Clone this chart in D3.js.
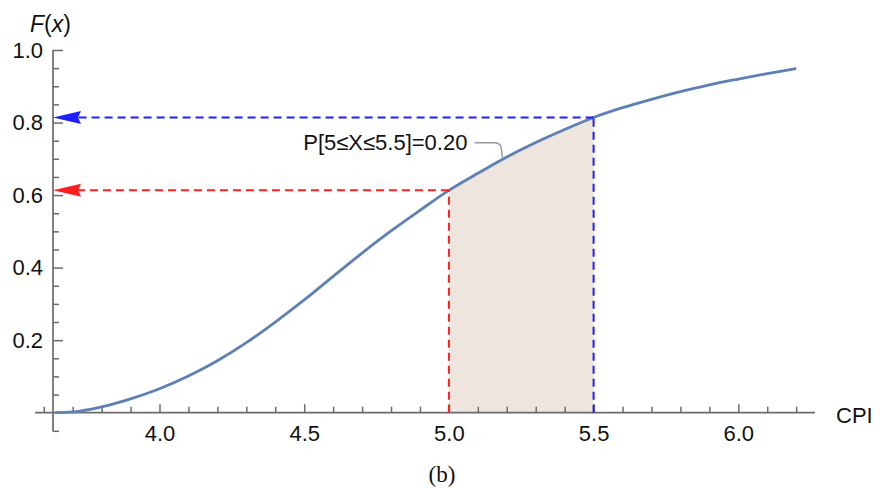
<!DOCTYPE html>
<html>
<head>
<meta charset="utf-8">
<script src="https://cdn.jsdelivr.net/npm/d3@7/dist/d3.min.js"></script>
<style>
  body { margin: 0; background: #fff; }
  text { font-family: "Liberation Sans", Arial, sans-serif; }
</style>
</head>
<body>
<svg id="svg"></svg>
<script>
// CDF values
const cpiValues = [3.64, 3.7, 3.8, 3.9, 4.0, 4.1, 4.2, 4.3, 4.4, 4.5, 4.6, 4.7, 4.8, 4.9,
  5.0, 5.1, 5.2, 5.3, 5.4, 5.5, 5.6, 5.7, 5.8, 5.9, 6.0, 6.1, 6.2];
const cdfValues = [0.000, 0.002, 0.016, 0.038, 0.066, 0.101, 0.143, 0.193, 0.250, 0.311,
  0.376, 0.440, 0.501, 0.558, 0.613, 0.660, 0.705, 0.745, 0.781, 0.814, 0.841, 0.864,
  0.885, 0.904, 0.920, 0.935, 0.949];

const xTickLabels = [4.0, 4.5, 5.0, 5.5, 6.0];
const yTickLabels = [0.2, 0.4, 0.6, 0.8, 1.0];

// interval of interest and the two read-off points
const lowerX = 5.0, upperX = 5.5;
const lowerF = 0.613, upperF = 0.814;
const annotation = "P[5≤X≤5.5]=0.20";
const annotationAnchor = [5.185, 0.703];

const data = cpiValues.map((v, i) => ({ x: v, y: cdfValues[i] }));

const width = 884, height = 488;
const svg = d3.select("#svg").attr("width", width).attr("height", height);

const x = d3.scaleLinear().domain([4, 6]).range([159.5, 738.3]);
const y = d3.scaleLinear().domain([0, 1]).range([412.7, 50]);

const originX = 3.632;
const axisColor = "#6b6b6b";
const fontSize = 22;

// shaded probability region
const band = data.filter(d => d.x >= lowerX && d.x <= upperX);
svg.append("path")
  .datum(band)
  .attr("fill", "#ede5de")
  .attr("d", d3.area().x(d => x(d.x)).y0(y(0)).y1(d => y(d.y)).curve(d3.curveMonotoneX));

// axes lines
svg.append("line")
  .attr("x1", x(3.57)).attr("x2", x(6.265))
  .attr("y1", y(0)).attr("y2", y(0))
  .attr("stroke", axisColor).attr("stroke-width", 1.7);
svg.append("line")
  .attr("x1", x(originX)).attr("x2", x(originX))
  .attr("y1", y(-0.052)).attr("y2", y(1))
  .attr("stroke", axisColor).attr("stroke-width", 1.7);

// x axis ticks
const xMinor = d3.range(36, 63).map(v => v / 10).filter(v => !xTickLabels.includes(v));
const xMajorAxis = d3.axisBottom(x).tickValues(xTickLabels).tickFormat(d3.format(".1f"))
  .tickSizeInner(-8.5).tickSizeOuter(0).tickPadding(13);
const xMinorAxis = d3.axisBottom(x).tickValues(xMinor).tickFormat("")
  .tickSizeInner(-6).tickSizeOuter(0);

svg.append("g").attr("transform", `translate(0,${y(0)})`).call(xMinorAxis);
svg.append("g").attr("transform", `translate(0,${y(0)})`).call(xMajorAxis);

// y axis ticks
const yMinor = d3.range(-1, 21).map(v => v / 20).filter(v => v !== 0 && !yTickLabels.some(t => Math.abs(t - v) < 1e-9));
const yMajorAxis = d3.axisLeft(y).tickValues(yTickLabels).tickFormat(d3.format(".1f"))
  .tickSizeInner(-10).tickSizeOuter(0).tickPadding(10);
const yMinorAxis = d3.axisLeft(y).tickValues(yMinor).tickFormat("")
  .tickSizeInner(-6).tickSizeOuter(0);

svg.append("g").attr("transform", `translate(${x(originX)},0)`).call(yMinorAxis);
svg.append("g").attr("transform", `translate(${x(originX)},0)`).call(yMajorAxis);

svg.selectAll(".domain").remove();
svg.selectAll(".tick line").attr("stroke", axisColor).attr("stroke-width", 1.5);
svg.selectAll(".tick text").attr("font-size", fontSize).attr("fill", "#111");

// CDF curve
svg.append("path")
  .datum(data)
  .attr("fill", "none")
  .attr("stroke", "#5e81b5")
  .attr("stroke-width", 2.8)
  .attr("d", d3.line().x(d => x(d.x)).y(d => y(d.y)).curve(d3.curveMonotoneX));

// dashed guides with arrows to the y axis
function guide(xv, fv, color) {
  svg.append("line")
    .attr("x1", x(xv)).attr("x2", x(xv))
    .attr("y1", y(0)).attr("y2", y(fv))
    .attr("stroke", color).attr("stroke-width", 2).attr("stroke-dasharray", "8,5");
  svg.append("line")
    .attr("x1", x(xv)).attr("x2", x(originX) + 24)
    .attr("y1", y(fv)).attr("y2", y(fv))
    .attr("stroke", color).attr("stroke-width", 2).attr("stroke-dasharray", "8,5");
  svg.append("path")
    .attr("transform", `translate(${x(originX)},${y(fv)})`)
    .attr("d", "M0,0 L28,-6.5 L25,0 L28,6.5 Z")
    .attr("fill", color);
}
guide(lowerX, lowerF, "#ff1f1f");
guide(upperX, upperF, "#1f1fff");

// annotation with leader
const ax = x(annotationAnchor[0]), ay = y(annotationAnchor[1]);
svg.append("path")
  .attr("fill", "none").attr("stroke", "#9a9a9a").attr("stroke-width", 1.5)
  .attr("d", `M${ax - 28},${ay - 15} L${ax - 8},${ay - 15} Q${ax - 1},${ay - 15} ${ax - 1},${ay - 8} L${ax},${ay}`);
svg.append("text")
  .attr("x", ax - 35).attr("y", ay - 8)
  .attr("text-anchor", "end")
  .attr("font-size", fontSize).attr("fill", "#111")
  .text(annotation);

// axis labels
const fx = svg.append("text").attr("x", 30).attr("y", 32).attr("font-size", fontSize + 1).attr("fill", "#111");
fx.append("tspan").attr("font-style", "italic").text("F");
fx.append("tspan").text("(");
fx.append("tspan").attr("font-style", "italic").text("x");
fx.append("tspan").text(")");

svg.append("text").attr("x", 836).attr("y", 423)
  .attr("font-size", fontSize).attr("fill", "#111").text("CPI");

svg.append("text").attr("x", 442).attr("y", 482)
  .attr("text-anchor", "middle")
  .style("font-family", "'Liberation Serif', 'DejaVu Serif', serif")
  .attr("font-size", 23).attr("fill", "#111").text("(b)");
</script>
</body>
</html>
